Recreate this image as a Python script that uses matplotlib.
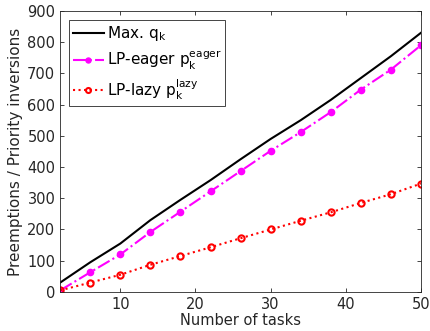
import matplotlib
matplotlib.use('Agg')
import matplotlib.pyplot as plt

tasks = [2, 6, 10, 14, 18, 22, 26, 30, 34, 38, 42, 46, 50]
max_q = [30, 95, 155, 230, 295, 358, 425, 490, 550, 615, 685, 755, 830]
lp_eager = [5, 63, 120, 192, 257, 322, 387, 452, 512, 576, 648, 712, 790]
lp_lazy = [5, 30, 55, 87, 115, 143, 172, 200, 228, 255, 285, 313, 347]

txt = '#262626'

fig = plt.figure(figsize=(4.3, 3.31), dpi=100)
ax = fig.add_axes([0.14, 0.118, 0.839, 0.849])

ax.plot(tasks, max_q, color='black', linewidth=1.5, label=r'Max. q$_\mathregular{k}$')
ax.plot(tasks, lp_eager, color='magenta', linestyle='-.', linewidth=1.5,
        marker='o', markersize=4.5, label=r'LP-eager p$_\mathregular{k}^\mathregular{eager}$')
ax.plot(tasks, lp_lazy, color='red', linestyle=':', linewidth=1.5,
        marker='o', markersize=4.5, markerfacecolor='none', markeredgewidth=1.5,
        label=r'LP-lazy p$_\mathregular{k}^\mathregular{lazy}$')

ax.set_xlim(2, 50)
ax.set_ylim(0, 900)
ax.set_xticks([10, 20, 30, 40, 50])
ax.set_yticks(range(0, 901, 100))
ax.tick_params(direction='in', top=True, right=True, labelsize=10.5, colors=txt,
               length=3, width=0.6)
for s in ax.spines.values():
    s.set_color('#262626')
    s.set_linewidth(0.6)

ax.set_xlabel('Number of tasks', fontsize=10.5, color=txt, labelpad=1)
ax.set_ylabel('Preemptions / Priority inversions', fontsize=11, color=txt, labelpad=3)

leg = ax.legend(loc='upper left', fontsize=11, fancybox=False, framealpha=1,
                edgecolor='#262626', handlelength=2.0, handletextpad=0.2,
                borderaxespad=0.6, labelspacing=0.35, borderpad=0.25,
                markerscale=0.8)
leg.get_frame().set_linewidth(0.6)
for t in leg.get_texts():
    t.set_color('black')

fig.savefig('out.png', dpi=100)
